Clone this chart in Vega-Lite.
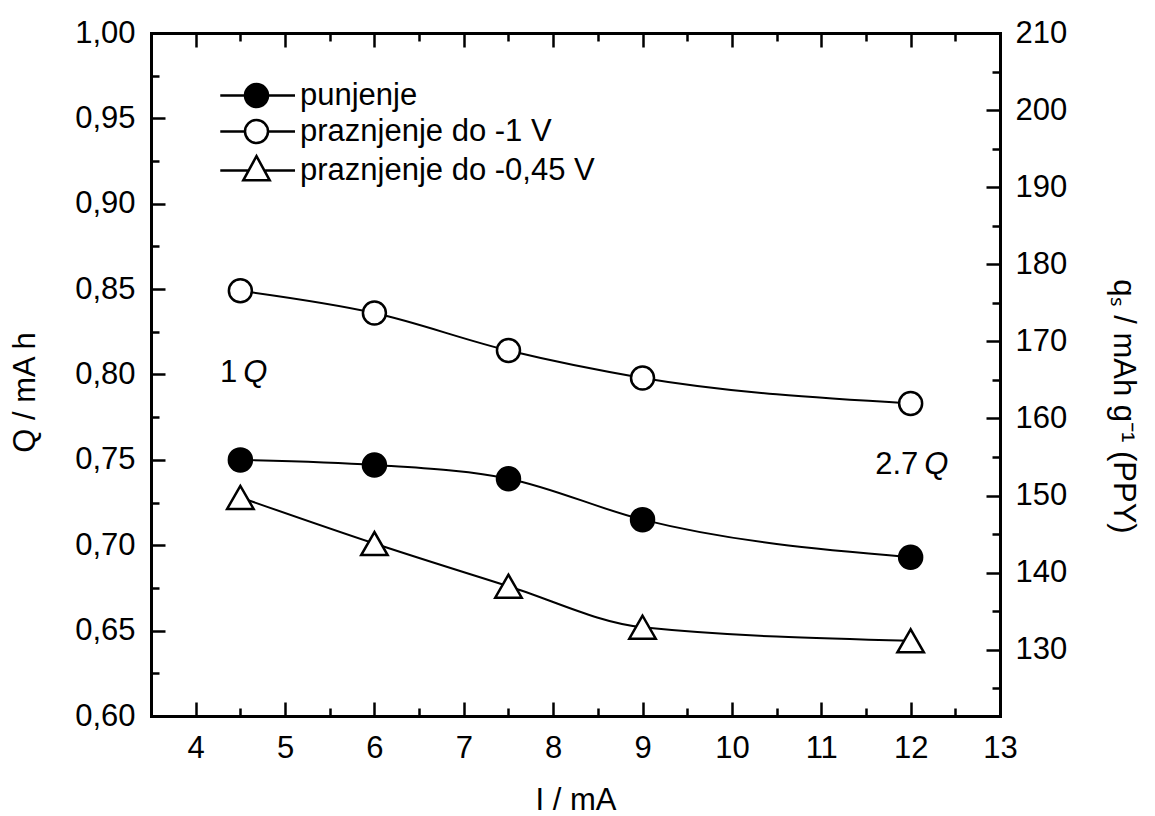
{
  "$schema": "https://vega.github.io/schema/vega-lite/v6.json",
  "width": 849,
  "height": 683,
  "autosize": "none",
  "padding": {"left": 151, "top": 33, "right": 155, "bottom": 100},
  "background": "white",
  "config": {
    "font": "Liberation Sans",
    "view": {"stroke": null},
    "axis": {
      "grid": false,
      "domainColor": "black",
      "tickColor": "black",
      "labelColor": "black",
      "titleColor": "black",
      "domainWidth": 3,
      "tickWidth": 2.5,
      "labelFontSize": 31,
      "titleFontSize": 31,
      "titleFontWeight": "normal",
      "labelFont": "Liberation Sans",
      "titleFont": "Liberation Sans",
      "labelFlush": false,
      "labelOverlap": false,
      "domainCap": "square"
    },
    "legend": {
      "orient": "none",
      "legendX": 90,
      "legendY": 47,
      "title": null,
      "labelFont": "Liberation Sans",
      "labelFontSize": 31,
      "labelColor": "black",
      "symbolSize": 529,
      "symbolStrokeWidth": 2.5,
      "symbolStrokeColor": "black",
      "labelOffset": 28,
      "rowPadding": 3,
      "padding": 0,
      "labelLimit": 0
    }
  },
  "datasets": {
    "pts": [
      {"I": 4.5, "Q": 0.750, "series": "punjenje"},
      {"I": 6.0, "Q": 0.747, "series": "punjenje"},
      {"I": 7.5, "Q": 0.739, "series": "punjenje"},
      {"I": 9.0, "Q": 0.715, "series": "punjenje"},
      {"I": 12.0, "Q": 0.693, "series": "punjenje"},
      {"I": 4.5, "Q": 0.849, "series": "praznjenje do -1 V"},
      {"I": 6.0, "Q": 0.836, "series": "praznjenje do -1 V"},
      {"I": 7.5, "Q": 0.814, "series": "praznjenje do -1 V"},
      {"I": 9.0, "Q": 0.798, "series": "praznjenje do -1 V"},
      {"I": 12.0, "Q": 0.783, "series": "praznjenje do -1 V"},
      {"I": 4.5, "Q": 0.728, "series": "praznjenje do -0,45 V"},
      {"I": 6.0, "Q": 0.701, "series": "praznjenje do -0,45 V"},
      {"I": 7.5, "Q": 0.676, "series": "praznjenje do -0,45 V"},
      {"I": 9.0, "Q": 0.652, "series": "praznjenje do -0,45 V"},
      {"I": 12.0, "Q": 0.644, "series": "praznjenje do -0,45 V"}
    ],
    "ann": [
      {"I": 4.5, "Q": 0.801, "a": "1", "b": "Q"},
      {"I": 12.12, "Q": 0.747, "a": "2.7", "b": "Q"}
    ]
  },
  "resolve": {
    "scale": {"x": "independent", "y": "independent"},
    "axis": {"x": "independent", "y": "independent"}
  },
  "layer": [
    {
      "data": {"name": "pts"},
      "mark": {"type": "line", "interpolate": "monotone", "color": "black", "strokeWidth": 2},
      "encoding": {
        "x": {
          "field": "I", "type": "quantitative",
          "scale": {"domain": [3.5, 13], "nice": false, "zero": false},
          "axis": {"orient": "bottom", "values": [4, 5, 6, 7, 8, 9, 10, 11, 12, 13], "tickSize": -14, "labelPadding": 31, "title": "I / mA", "titlePadding": 22}
        },
        "y": {
          "field": "Q", "type": "quantitative",
          "scale": {"domain": [0.6, 1.0], "nice": false, "zero": false},
          "axis": {"orient": "left", "values": [0.6, 0.65, 0.7, 0.75, 0.8, 0.85, 0.9, 0.95, 1.0], "tickSize": -14, "labelPadding": 30, "labelExpr": "replace(format(datum.value, '.2f'), '.', ',')", "title": "Q / mA h", "titlePadding": 33, "titleY": 359}
        },
        "detail": {"field": "series", "type": "nominal"}
      }
    },
    {
      "data": {"name": "pts"},
      "transform": [{"filter": "datum.series === 'punjenje'"}],
      "mark": {"type": "point", "shape": "circle", "size": 529, "filled": true, "fill": "black", "stroke": "black", "strokeWidth": 2.5, "opacity": 1},
      "encoding": {
        "x": {
          "field": "I", "type": "quantitative",
          "scale": {"domain": [3.5, 13], "nice": false, "zero": false},
          "axis": {"orient": "bottom", "values": [4.5, 5.5, 6.5, 7.5, 8.5, 9.5, 10.5, 11.5, 12.5], "tickSize": -8, "labels": false, "domain": false, "title": null}
        },
        "y": {
          "field": "Q", "type": "quantitative",
          "scale": {"domain": [0.6, 1.0], "nice": false, "zero": false},
          "axis": {"orient": "left", "values": [0.625, 0.675, 0.725, 0.775, 0.825, 0.875, 0.925, 0.975], "tickSize": -8, "labels": false, "domain": false, "title": null}
        }
      }
    },
    {
      "data": {"name": "pts"},
      "transform": [{"filter": "datum.series === 'praznjenje do -1 V'"}],
      "mark": {"type": "point", "shape": "circle", "size": 529, "filled": false, "fill": "white", "stroke": "black", "strokeWidth": 2.5, "opacity": 1},
      "encoding": {
        "x": {
          "field": "I", "type": "quantitative",
          "scale": {"domain": [3.5, 13], "nice": false, "zero": false},
          "axis": {"orient": "top", "values": [4, 5, 6, 7, 8, 9, 10, 11, 12, 13], "tickSize": -14, "labels": false, "domain": true, "title": null}
        },
        "y": {
          "field": "Q", "type": "quantitative",
          "scale": {"domain": [0.6, 1.0], "nice": false, "zero": false},
          "axis": null
        }
      }
    },
    {
      "data": {"name": "pts"},
      "transform": [{"filter": "datum.series === 'praznjenje do -0,45 V'"}],
      "mark": {"type": "point", "shape": "M0,-1L-1.15,1L1.15,1Z", "size": 529, "filled": false, "fill": "white", "stroke": "black", "strokeWidth": 2.5, "opacity": 1},
      "encoding": {
        "x": {
          "field": "I", "type": "quantitative",
          "scale": {"domain": [3.5, 13], "nice": false, "zero": false},
          "axis": {"orient": "top", "values": [4.5, 5.5, 6.5, 7.5, 8.5, 9.5, 10.5, 11.5, 12.5], "tickSize": -8, "labels": false, "domain": false, "title": null}
        },
        "y": {
          "field": "Q", "type": "quantitative",
          "scale": {"domain": [0.6, 1.0], "nice": false, "zero": false},
          "axis": null
        }
      }
    },
    {
      "data": {"values": [{}]},
      "mark": {"type": "rule", "opacity": 0},
      "encoding": {
        "y": {
          "datum": 150, "type": "quantitative",
          "scale": {"domain": [121.4, 210], "nice": false, "zero": false},
          "axis": {"orient": "right", "values": [130, 140, 150, 160, 170, 180, 190, 200, 210], "tickSize": -14, "labelPadding": 29, "domain": true, "title": "qₛ / mAh g⁻¹ (PPY)", "titlePadding": 40, "titleY": 373}
        }
      }
    },
    {
      "data": {"values": [{}]},
      "mark": {"type": "rule", "opacity": 0},
      "encoding": {
        "y": {
          "datum": 150, "type": "quantitative",
          "scale": {"domain": [121.4, 210], "nice": false, "zero": false},
          "axis": {"orient": "right", "values": [125, 135, 145, 155, 165, 175, 185, 195, 205], "tickSize": -8, "labels": false, "domain": false, "title": null}
        }
      }
    },
    {
      "data": {"name": "ann"},
      "mark": {"type": "text", "align": "right", "baseline": "middle", "fontSize": 31, "font": "Liberation Sans", "color": "black", "dx": -3},
      "encoding": {
        "x": {"field": "I", "type": "quantitative", "scale": {"domain": [3.5, 13], "nice": false, "zero": false}, "axis": null},
        "y": {"field": "Q", "type": "quantitative", "scale": {"domain": [0.6, 1.0], "nice": false, "zero": false}, "axis": null},
        "text": {"field": "a", "type": "nominal"}
      }
    },
    {
      "data": {"name": "ann"},
      "mark": {"type": "text", "align": "left", "baseline": "middle", "fontSize": 31, "font": "Liberation Sans", "fontStyle": "italic", "color": "black", "dx": 3},
      "encoding": {
        "x": {"field": "I", "type": "quantitative", "scale": {"domain": [3.5, 13], "nice": false, "zero": false}, "axis": null},
        "y": {"field": "Q", "type": "quantitative", "scale": {"domain": [0.6, 1.0], "nice": false, "zero": false}, "axis": null},
        "text": {"field": "b", "type": "nominal"}
      }
    },
    {
      "data": {"name": "pts"},
      "transform": [{"filter": "false"}],
      "mark": {"type": "point", "filled": false, "stroke": "black", "strokeWidth": 2.5, "opacity": 1, "size": 529},
      "encoding": {
        "shape": {
          "field": "series", "type": "nominal",
          "scale": {
            "domain": ["punjenje", "praznjenje do -1 V", "praznjenje do -0,45 V"],
            "range": [
              "M-3.15,0L-1,0M1,0L3.35,0M-1,0A1,1,0,1,0,1,0A1,1,0,1,0,-1,0Z",
              "M-3.15,0L-1,0M1,0L3.35,0M-1,0A1,1,0,1,0,1,0A1,1,0,1,0,-1,0Z",
              "M-3.15,0L-0.69,0M0.69,0L3.35,0M0,-1.25L-1.15,0.85L1.15,0.85Z"
            ]
          },
          "legend": {"symbolStrokeColor": "black", "symbolStrokeWidth": 2.5}
        },
        "fill": {
          "field": "series", "type": "nominal",
          "scale": {
            "domain": ["punjenje", "praznjenje do -1 V", "praznjenje do -0,45 V"],
            "range": ["black", "white", "white"]
          }
        },
        "stroke": {
          "field": "series", "type": "nominal",
          "scale": {
            "domain": ["punjenje", "praznjenje do -1 V", "praznjenje do -0,45 V"],
            "range": ["black", "black", "black"]
          }
        }
      }
    }
  ]
}
